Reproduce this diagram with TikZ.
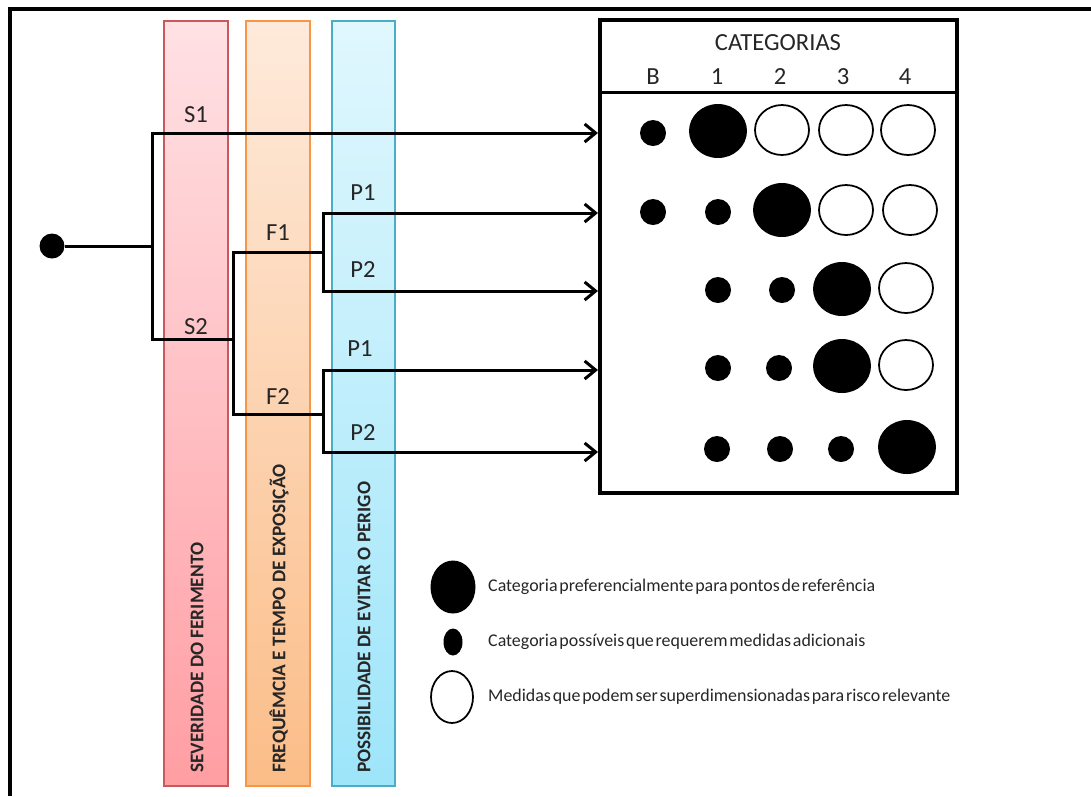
\documentclass[tikz,border=0pt]{standalone}
\usepackage{fontspec}
\setmainfont{Carlito}
\usetikzlibrary{arrows.meta,shapes.geometric}
\definecolor{sevtop}{HTML}{FFE1E4}
\definecolor{sevbot}{HTML}{FF9EA3}
\definecolor{sevline}{HTML}{C9595C}
\definecolor{fretop}{HTML}{FEEADB}
\definecolor{frebot}{HTML}{FBBD88}
\definecolor{freline}{HTML}{F79646}
\definecolor{postop}{HTML}{E0F7FD}
\definecolor{posbot}{HTML}{9EE5FA}
\definecolor{posline}{HTML}{4BACC6}
\newcommand{\legfont}{\fontsize{10.2}{12}\selectfont\spaceskip=0.1em\relax}

\begin{document}
\begin{tikzpicture}[x=0.02cm,y=-0.02cm,
  >={Straight Barb[length=2.2mm,width=3.6mm]},
  tree/.style={line width=0.06cm},
  lbl/.style={font=\fontsize{14}{16}\selectfont,text=black!85},
  coltext/.style={rotate=90,anchor=west,font=\bfseries\fontsize{11}{13}\selectfont,text=black!85},
  bigdot/.style={ellipse,fill=black,minimum width=1.16cm,minimum height=1.08cm,inner sep=0pt},
  smalldot/.style={circle,fill=black,minimum size=0.52cm,inner sep=0pt},
  opendot/.style={ellipse,draw,line width=1pt,fill=white,minimum width=1.08cm,minimum height=1.0cm,inner sep=0pt},
  legtext/.style={anchor=west,font=\legfont,text=black!85}]

  \useasboundingbox (0,0) rectangle (1091,796);

  % frame
  \draw[line width=0.075cm] (10,796) -- (10,9) -- (1091,9);

  % columns
  \draw[top color=sevtop,bottom color=sevbot,draw=sevline,line width=0.8pt] (164,21) rectangle (228,786);
  \draw[top color=fretop,bottom color=frebot,draw=freline,line width=0.8pt] (246,21) rectangle (310,786);
  \draw[top color=postop,bottom color=posbot,draw=posline,line width=0.8pt] (332,21) rectangle (395,786);
  \node[coltext] (sevtxt) at (197,779) {SEVERIDADE DO FERIMENTO};
  \node[coltext] (fretxt) at (279,779) {FREQUÊMCIA E TEMPO DE EXPOSIÇÃO};
  \node[coltext] (postxt) at (364,779) {POSSIBILIDADE DE EVITAR O PERIGO};

  % categories box
  \draw[line width=0.07cm] (600,20) rectangle (957,493);
  \draw[line width=0.06cm] (600,92) -- (957,92);
  \node[lbl] (cat) at (778,43) {CATEGORIAS};
  \node[lbl] (cB) at (653,77) {B};
  \node[lbl] (c1) at (717,77) {1};
  \node[lbl] (c2) at (780,77) {2};
  \node[lbl] (c3) at (843,77) {3};
  \node[lbl] (c4) at (905,77) {4};

  % tree
  \node[circle,fill=black,minimum size=0.5cm,inner sep=0pt] (root) at (52,246) {};
  \coordinate (sj) at (152,246);
  \coordinate (s1) at (152,133);
  \coordinate (s2) at (152,339);
  \coordinate (fj) at (233,339);
  \coordinate (f1) at (233,252);
  \coordinate (f2) at (233,414);
  \coordinate (pj1) at (323,252);
  \coordinate (pj2) at (323,414);
  \coordinate (p11) at (323,213);
  \coordinate (p12) at (323,291);
  \coordinate (p21) at (323,370);
  \coordinate (p22) at (323,452);
  \coordinate (r1) at (598,133);
  \coordinate (r2) at (598,213);
  \coordinate (r3) at (598,291);
  \coordinate (r4) at (598,370);
  \coordinate (r5) at (598,452);

  \draw[tree] (root) -- (sj);
  \draw[tree,->] (fj) -- (s2) |- (r1);
  \draw[tree] (pj2) -- (f2) |- (pj1);
  \draw[tree,->] (p12) |- (r2);
  \draw[tree,->] (p11) |- (r3);
  \draw[tree,->] (p22) |- (r4);
  \draw[tree,->] (p21) |- (r5);

  \node[lbl] (ls1) at (196,115) {S1};
  \node[lbl] (ls2) at (196,327) {S2};
  \node[lbl] (lf1) at (278,233) {F1};
  \node[lbl] (lf2) at (278,397) {F2};
  \node[lbl] (lp11) at (363,193) {P1};
  \node[lbl] (lp12) at (363,270) {P2};
  \node[lbl] (lp21) at (360,349) {P1};
  \node[lbl] (lp22) at (363,433) {P2};

  % row 1
  \node[smalldot] (a1) at (653,133) {};
  \node[bigdot] (a2) at (718,131) {};
  \node[opendot] (a3) at (782,130) {};
  \node[opendot] (a4) at (846,130) {};
  \node[opendot] (a5) at (908,130) {};
  % row 2
  \node[smalldot] (b1) at (653,212) {};
  \node[smalldot] (b2) at (718,212) {};
  \node[bigdot] (b3) at (782,210) {};
  \node[opendot] (b4) at (846,210) {};
  \node[opendot] (b5) at (910,210) {};
  % row 3
  \node[smalldot] (c2d) at (718,290) {};
  \node[smalldot] (c3d) at (782,290) {};
  \node[bigdot] (c4d) at (842,289) {};
  \node[opendot] (c5d) at (906,288) {};
  % row 4
  \node[smalldot] (d2) at (718,368) {};
  \node[smalldot] (d3) at (779,368) {};
  \node[bigdot] (d4) at (842,366) {};
  \node[opendot] (d5) at (906,365) {};
  % row 5
  \node[smalldot] (e2) at (717,449) {};
  \node[smalldot] (e3) at (780,449) {};
  \node[smalldot] (e4) at (841,449) {};
  \node[bigdot] (e5) at (907,447) {};

  % legend
  \node[ellipse,fill=black,minimum width=0.9cm,minimum height=1.06cm,inner sep=0pt] (lg1) at (453,587) {};
  \node[ellipse,fill=black,minimum width=0.38cm,minimum height=0.54cm,inner sep=0pt] (lg2) at (453,642) {};
  \node[ellipse,draw,line width=1pt,minimum width=0.84cm,minimum height=1.04cm,inner sep=0pt] (lg3) at (452,697) {};
  \node[legtext] (lt1) at (482,587) {Categoria preferencialmente para pontos de referência};
  \node[legtext] (lt2) at (482,642) {Categoria possíveis que requerem medidas adicionais};
  \node[legtext] (lt3) at (482,697) {Medidas que podem ser superdimensionadas para risco relevante};
\end{tikzpicture}
\end{document}
